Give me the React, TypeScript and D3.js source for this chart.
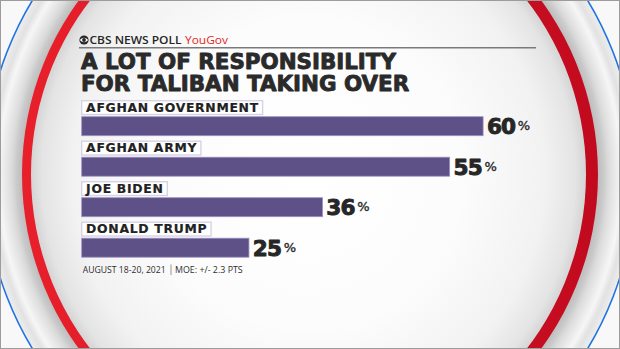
import React, { useEffect, useRef } from "react";
import * as d3 from "d3";

const categories = ["AFGHAN GOVERNMENT", "AFGHAN ARMY", "JOE BIDEN", "DONALD TRUMP"];
const values = [60, 55, 36, 25];
const titleLines = ["A LOT OF RESPONSIBILITY", "FOR TALIBAN TAKING OVER"];
const sourceName = "CBS NEWS POLL";
const partnerName = "YouGov";
const footerDate = "AUGUST 18-20, 2021";
const footerMoe = "MOE: +/- 2.3 PTS";

const W = 620;
const H = 349;

function ellipsePath(cx: number, cy: number, rx: number, ry: number) {
  return `M${cx - rx},${cy} a${rx},${ry} 0 1,0 ${2 * rx},0 a${rx},${ry} 0 1,0 ${-2 * rx},0 Z`;
}

export default function App() {
  const ref = useRef<SVGSVGElement>(null);

  useEffect(() => {
    const svg = d3.select(ref.current);
    svg.selectAll("*").remove();
    const defs = svg.append("defs");

    const inner = defs.append("radialGradient").attr("id", "innerG").attr("cx", "50%").attr("cy", "50%").attr("r", "50%");
    [[0, "#ffffff"], [0.55, "#fcfcfc"], [0.85, "#f2f2f2"], [0.96, "#e4e4e4"], [1, "#d4d4d4"]].forEach(([o, c]) =>
      inner.append("stop").attr("offset", o as number).attr("stop-color", c as string));

    const band = defs.append("radialGradient").attr("id", "bandG").attr("cx", "50%").attr("cy", "50%").attr("r", "50%");
    [[0, "#e6e6e6"], [0.86, "#e4e4e4"], [0.9, "#d2d2d2"], [0.955, "#f6f6f6"], [0.975, "#e2e2e2"], [1, "#eeeeee"]].forEach(([o, c]) =>
      band.append("stop").attr("offset", o as number).attr("stop-color", c as string));

    const red = defs.append("linearGradient").attr("id", "redG").attr("x1", "0").attr("x2", "1").attr("y1", "0").attr("y2", "0");
    red.append("stop").attr("offset", 0).attr("stop-color", "#e8202b");
    red.append("stop").attr("offset", 1).attr("stop-color", "#c20a1f");

    const blur = defs.append("filter").attr("id", "blur").attr("x", "-10%").attr("y", "-10%").attr("width", "120%").attr("height", "120%");
    blur.append("feGaussianBlur").attr("stdDeviation", 3.5);

    // background
    svg.append("rect").attr("x", 0).attr("y", 0).attr("width", W).attr("height", H).attr("fill", "#f8f8f8");
    svg.append("path").attr("d", ellipsePath(310, 174.5, 326, 332)).attr("fill", "url(#bandG)");
    svg.append("path").attr("d", ellipsePath(310, 174.5, 326, 332)).attr("fill", "none").attr("stroke", "#1f74e2").attr("stroke-width", 1.6);
    const ringD = ellipsePath(310, 174.5, 288, 292) + ellipsePath(308.5, 174.5, 277.5, 282);
    svg.append("path").attr("d", ellipsePath(310, 174.5, 292, 296)).attr("fill", "#b9b9b9").attr("filter", "url(#blur)");
    svg.append("path").attr("d", ellipsePath(308.5, 174.5, 278, 282.5)).attr("fill", "url(#innerG)");
    svg.append("path").attr("d", ringD).attr("fill", "url(#redG)").attr("fill-rule", "evenodd");
    svg.append("rect").attr("x", 0.5).attr("y", 0.5).attr("width", W - 1).attr("height", H - 1).attr("fill", "none").attr("stroke", "#9c9c9c").attr("stroke-width", 1);

    // header
    const eye = svg.append("g").attr("transform", "translate(84,40)");
    eye.append("circle").attr("r", 4.6).attr("fill", "#262626");
    eye.append("path").attr("d", "M-4.2,0 Q0,-4.4 4.2,0 Q0,4.4 -4.2,0 Z").attr("fill", "#ffffff");
    eye.append("circle").attr("r", 1.9).attr("fill", "#262626");
    svg.append("text").attr("x", 89.5).attr("y", 44.3).text(sourceName)
      .attr("font-family", "'Open Sans', 'Noto Sans', sans-serif").attr("font-weight", 600).attr("font-size", 11.2)
      .attr("fill", "#262626").attr("textLength", 92).attr("lengthAdjust", "spacingAndGlyphs");
    svg.append("text").attr("x", 185).attr("y", 44.3).text(partnerName)
      .attr("font-family", "'Open Sans', 'Noto Sans', sans-serif").attr("font-weight", 400).attr("font-size", 11.5)
      .attr("fill", "#e4261c").attr("textLength", 43).attr("lengthAdjust", "spacingAndGlyphs");
    svg.append("line").attr("x1", 79).attr("x2", 536).attr("y1", 47.8).attr("y2", 47.8).attr("stroke", "#7a7a7a").attr("stroke-width", 1.4);

    // title
    svg.selectAll("text.title").data(titleLines).enter().append("text").attr("class", "title")
      .attr("x", 81).attr("y", (_d, i) => 68.5 + i * 22.2).text(d => d)
      .attr("font-family", "'DejaVu Sans', sans-serif").attr("font-weight", 700).attr("font-size", 21.4)
      .attr("fill", "#2a2a2a").attr("stroke", "#2a2a2a").attr("stroke-width", 0.9).attr("stroke-linejoin", "round");

    // scales
    const x = d3.scaleLinear().domain([0, 60]).range([81.7, 483.1]);
    const y = d3.scaleBand<string>().domain(categories).range([100.7, 100.7 + 4 * 40.5]).paddingInner(0);

    const rows = svg.selectAll("g.row").data(categories).enter().append("g").attr("class", "row")
      .attr("transform", d => `translate(0,${y(d)})`);

    const boxes = rows.append("rect").attr("x", x(0)).attr("y", 0).attr("height", 13.8)
      .attr("fill", "#ffffff").attr("stroke", "#d8d2e6").attr("stroke-width", 1.4);
    const labels = rows.append("text").attr("x", x(0) + 4.4).attr("y", 11.1).text(d => d)
      .attr("font-family", "'DejaVu Sans', sans-serif").attr("font-weight", 700).attr("font-size", 12.4)
      .attr("letter-spacing", 0.7).attr("fill", "#222222").attr("stroke", "#222222").attr("stroke-width", 0.2);
    labels.each(function (this: SVGTextElement, _d, i) {
      const w = this.getComputedTextLength();
      d3.select(boxes.nodes()[i]).attr("width", w + 8.2);
    });

    rows.append("rect").attr("x", x(0)).attr("y", 16).attr("height", 19)
      .attr("width", (_d, i) => x(values[i]) - x(0))
      .attr("fill", "#5e5188").attr("stroke", "#9d92c0").attr("stroke-width", 0.8);

    const nums = rows.append("text").attr("x", (_d, i) => x(values[i]) + 3.8).attr("y", 33.6)
      .text((_d, i) => String(values[i]))
      .attr("font-family", "'DejaVu Sans', sans-serif").attr("font-weight", 700).attr("font-size", 21.6)
      .attr("letter-spacing", -0.8)
      .attr("fill", "#262626").attr("stroke", "#262626").attr("stroke-width", 0.9).attr("stroke-linejoin", "round");
    nums.each(function (this: SVGTextElement, _d, i) {
      const w = this.getComputedTextLength();
      const g = d3.select(rows.nodes()[i]);
      g.append("text").attr("x", x(values[i]) + 3.8 + w + 2.5).attr("y", 29.8).text("%")
        .attr("font-family", "'DejaVu Sans', sans-serif").attr("font-weight", 400).attr("font-size", 13)
        .attr("fill", "#262626").attr("stroke", "#262626").attr("stroke-width", 0.35);
    });

    // footer
    svg.append("text").attr("x", 82.7).attr("y", 273.3).text(footerDate)
      .attr("font-family", "'Open Sans', 'Noto Sans', sans-serif").attr("font-weight", 500).attr("font-size", 9.6).attr("fill", "#2e2e2e")
      .attr("textLength", 83).attr("lengthAdjust", "spacingAndGlyphs");
    svg.append("line").attr("x1", 171).attr("x2", 171).attr("y1", 264.5).attr("y2", 275).attr("stroke", "#8a8a8a").attr("stroke-width", 0.9);
    svg.append("text").attr("x", 175).attr("y", 273.3).text(footerMoe)
      .attr("font-family", "'Open Sans', 'Noto Sans', sans-serif").attr("font-weight", 500).attr("font-size", 9.6).attr("fill", "#2e2e2e")
      .attr("textLength", 67.7).attr("lengthAdjust", "spacingAndGlyphs");
  }, []);

  return (
    <svg ref={ref} width={W} height={H} viewBox={`0 0 ${W} ${H}`}
      style={{ position: "absolute", left: 0, top: 0, display: "block" }} />
  );
}
